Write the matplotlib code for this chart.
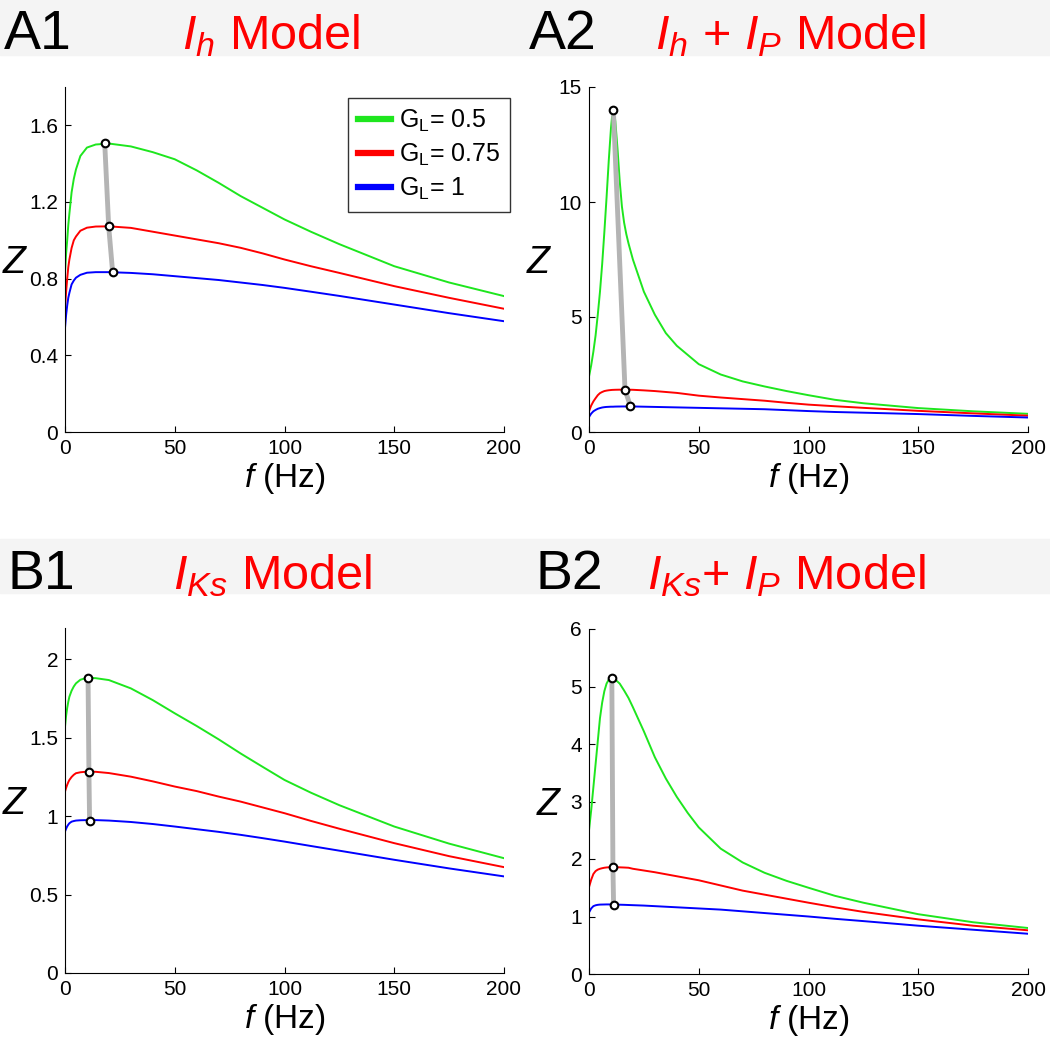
import matplotlib
matplotlib.use('Agg')
import matplotlib.pyplot as plt
from matplotlib.patches import Rectangle

plt.rcParams['font.family'] = ['Liberation Sans', 'DejaVu Sans']
plt.rcParams['mathtext.fontset'] = 'custom'
plt.rcParams['mathtext.rm'] = 'Liberation Sans'
plt.rcParams['mathtext.it'] = 'Liberation Sans:italic'

# values
gl_labels = ['0.5', '0.75', '1']

# A1: I_h model
a1_f = [0, 0.5, 1, 1.5, 2, 3, 4, 5, 7, 10, 14, 20, 30, 40, 50, 60, 70, 80, 90, 100,
        112, 125, 150, 175, 200]
a1_green = [0.83, 0.93, 1.0, 1.08, 1.14, 1.25, 1.32, 1.37, 1.44, 1.484, 1.50, 1.505, 1.49,
            1.46, 1.423, 1.365, 1.30, 1.231, 1.17, 1.109, 1.045, 0.98, 0.865, 0.78, 0.709]
a1_red = [0.645, 0.73, 0.80, 0.86, 0.90, 0.96, 1.0, 1.02, 1.05, 1.066, 1.072, 1.073, 1.065,
          1.045, 1.025, 1.005, 0.985, 0.961, 0.932, 0.90, 0.865, 0.83, 0.761, 0.70, 0.643]
a1_blue = [0.543, 0.61, 0.66, 0.70, 0.726, 0.77, 0.79, 0.805, 0.82, 0.831, 0.834, 0.834, 0.830,
           0.823, 0.813, 0.803, 0.793, 0.78, 0.767, 0.752, 0.732, 0.71, 0.665, 0.62, 0.578]
a1_peak_f = [18.1, 19.9, 21.7]
a1_peak_z = [1.506, 1.073, 0.834]

# A2: I_h + I_P model
a2_f = [0, 1, 2, 3, 4, 5, 6, 7, 8, 9, 10, 10.5, 11, 11.5, 12, 13, 14, 15, 16, 17, 18, 20,
        25, 30, 35, 40, 50, 60, 70, 80, 90, 100, 112, 125, 150, 175, 200]
a2_green = [2.41, 2.9, 3.5, 4.2, 5.1, 6.1, 7.3, 8.7, 10.2, 11.8, 13.2, 13.7, 14.0, 13.9, 13.5,
            12.3, 10.9, 9.8, 9.1, 8.6, 8.2, 7.5, 6.1, 5.1, 4.3, 3.75, 2.95, 2.5, 2.2, 1.98,
            1.78, 1.6, 1.4, 1.25, 1.04, 0.9, 0.79]
a2_red = [0.9, 1.15, 1.33, 1.47, 1.6, 1.69, 1.74, 1.78, 1.80, 1.815, 1.825, 1.83, 1.832,
          1.834, 1.836, 1.838, 1.84, 1.84, 1.84, 1.84, 1.84, 1.835, 1.81, 1.78, 1.74, 1.70,
          1.58, 1.50, 1.43, 1.36, 1.27, 1.19, 1.12, 1.05, 0.92, 0.81, 0.71]
a2_blue = [0.65, 0.8, 0.9, 0.96, 1.01, 1.04, 1.065, 1.08, 1.09, 1.095, 1.10, 1.10, 1.10, 1.103,
           1.105, 1.107, 1.108, 1.11, 1.11, 1.11, 1.11, 1.11, 1.10, 1.09, 1.08, 1.07, 1.05,
           1.03, 1.01, 0.99, 0.95, 0.91, 0.87, 0.84, 0.78, 0.70, 0.63]
a2_peak_f = [11.1, 16.4, 18.9]
a2_peak_z = [14.0, 1.84, 1.11]

# B1: I_Ks model
b1_f = [0, 0.5, 1, 1.5, 2, 3, 4, 5, 7, 10, 14, 20, 30, 40, 50, 60, 70, 80, 90, 100,
        112, 125, 150, 175, 200]
b1_green = [1.571, 1.64, 1.69, 1.73, 1.762, 1.80, 1.827, 1.847, 1.87, 1.883, 1.88, 1.868,
            1.815, 1.74, 1.656, 1.575, 1.49, 1.40, 1.315, 1.231, 1.15, 1.07, 0.934, 0.825, 0.732]
b1_red = [1.157, 1.18, 1.20, 1.217, 1.231, 1.25, 1.264, 1.274, 1.28, 1.284, 1.283, 1.275,
          1.252, 1.222, 1.189, 1.16, 1.125, 1.093, 1.056, 1.019, 0.97, 0.92, 0.828, 0.745, 0.675]
b1_blue = [0.902, 0.92, 0.935, 0.946, 0.955, 0.965, 0.969, 0.972, 0.974, 0.975, 0.975, 0.972,
           0.963, 0.95, 0.934, 0.917, 0.90, 0.881, 0.86, 0.838, 0.81, 0.78, 0.722, 0.667, 0.616]
b1_peak_f = [10.5, 10.9, 11.2]
b1_peak_z = [1.883, 1.284, 0.972]

# B2: I_Ks + I_P model
b2_f = [0, 1, 2, 3, 4, 5, 6, 7, 8, 9, 10.4, 12, 14, 16, 18, 20, 25, 30, 35, 40, 45, 50,
        60, 70, 80, 90, 100, 112, 125, 150, 175, 200]
b2_green = [2.50, 2.85, 3.25, 3.65, 4.05, 4.45, 4.72, 4.92, 5.05, 5.12, 5.15, 5.12, 5.05, 4.93,
            4.80, 4.64, 4.22, 3.77, 3.40, 3.08, 2.80, 2.55, 2.18, 1.94, 1.76, 1.62, 1.50, 1.36,
            1.24, 1.04, 0.90, 0.80]
b2_red = [1.51, 1.64, 1.74, 1.79, 1.815, 1.83, 1.84, 1.848, 1.853, 1.856, 1.857, 1.857, 1.855,
          1.852, 1.848, 1.83, 1.80, 1.77, 1.735, 1.70, 1.665, 1.63, 1.54, 1.45, 1.38, 1.31,
          1.24, 1.16, 1.08, 0.95, 0.84, 0.76]
b2_blue = [1.07, 1.14, 1.18, 1.195, 1.203, 1.207, 1.208, 1.209, 1.21, 1.21, 1.21, 1.207, 1.205,
           1.203, 1.20, 1.197, 1.19, 1.18, 1.17, 1.16, 1.15, 1.14, 1.12, 1.09, 1.06, 1.03,
           1.0, 0.96, 0.92, 0.84, 0.77, 0.70]
b2_peak_f = [10.4, 10.9, 11.2]
b2_peak_z = [5.15, 1.857, 1.207]

colors = ['#1ee61e', '#ff0000', '#0000ff']

fig = plt.figure(figsize=(10.5, 10.46), dpi=100)
W, H = 1050.0, 1046.0

# gray header bands
for y0, y1 in [(0, 55), (539, 593)]:
    fig.patches.append(Rectangle((0, 1 - y1 / H), 1, (y1 - y0) / H,
                                 transform=fig.transFigure, color='#f4f4f4', zorder=0))

headers = [
    ('A1', 4, 49, r'$\mathit{I}_{\mathit{h}}$ Model', 271),
    ('A2', 529, 49, r'$\mathit{I}_{\mathit{h}}$ + $\mathit{I}_{\mathit{P}}$ Model', 791),
    ('B1', 7, 589, r'$\mathit{I}_{\mathit{Ks}}$ Model', 273),
    ('B2', 535, 589, r'$\mathit{I}_{\mathit{Ks}}$+ $\mathit{I}_{\mathit{P}}$ Model', 786),
]
for lab, x, y, title, xc in headers:
    fig.text(x / W, 1 - y / H, lab, fontsize=40, va='baseline', ha='left')
    fig.text(xc / W, 1 - y / H, title, fontsize=35, va='baseline', ha='center', color='red')

panels = [
    (65, 87, a1_f, [a1_green, a1_red, a1_blue], a1_peak_f, a1_peak_z,
     1.8, [0, 0.4, 0.8, 1.2, 1.6], -0.112),
    (589, 87, a2_f, [a2_green, a2_red, a2_blue], a2_peak_f, a2_peak_z,
     15, [0, 5, 10, 15], -0.112),
    (65, 628, b1_f, [b1_green, b1_red, b1_blue], b1_peak_f, b1_peak_z,
     2.2, [0, 0.5, 1, 1.5, 2], -0.112),
    (589, 629, b2_f, [b2_green, b2_red, b2_blue], b2_peak_f, b2_peak_z,
     6, [0, 1, 2, 3, 4, 5, 6], -0.091),
]

axes = []
for left, top, f, curves, pf, pz, ymax, yt, zx in panels:
    ax = fig.add_axes([left / W, 1 - (top + 345) / H, 439 / W, 345 / H])
    for z, c, g in zip(curves, colors, gl_labels):
        ax.plot(f, z, color=c, lw=1.4, label=r'G$_{\mathregular{L}}$= ' + g)
    ax.plot(pf, pz, color='#b4b4b4', lw=3.5, solid_capstyle='round', zorder=3)
    ax.plot(pf, pz, 'o', ms=5.5, mfc='white', mec='black', mew=1.5, zorder=4)
    ax.set_xlim(0, 200)
    ax.set_ylim(0, ymax)
    ax.set_xticks([0, 50, 100, 150, 200])
    ax.set_yticks(yt)
    ax.set_yticklabels([('%g' % v) for v in yt])
    ax.spines['top'].set_visible(False)
    ax.spines['right'].set_visible(False)
    ax.tick_params(direction='in', length=4, labelsize=15, pad=5)
    ax.set_xlabel(r'$\mathit{f}$ (Hz)', fontsize=24, labelpad=2)
    ax.set_ylabel(r'$\mathit{Z}$', fontsize=27, rotation=0, va='center', ha='center')
    ax.yaxis.set_label_coords(zx, 0.49)
    axes.append(ax)

leg = axes[0].legend(loc='upper right', bbox_to_anchor=(1.014, 0.968), fontsize=18,
                     frameon=True, fancybox=False, edgecolor='black',
                     handlelength=1.35, handletextpad=0.3, labelspacing=0.3,
                     borderpad=0.4, borderaxespad=0)
leg.get_frame().set_linewidth(1.0)
for line in leg.get_lines():
    line.set_linewidth(4.5)

plt.savefig('out.png', dpi=100)
